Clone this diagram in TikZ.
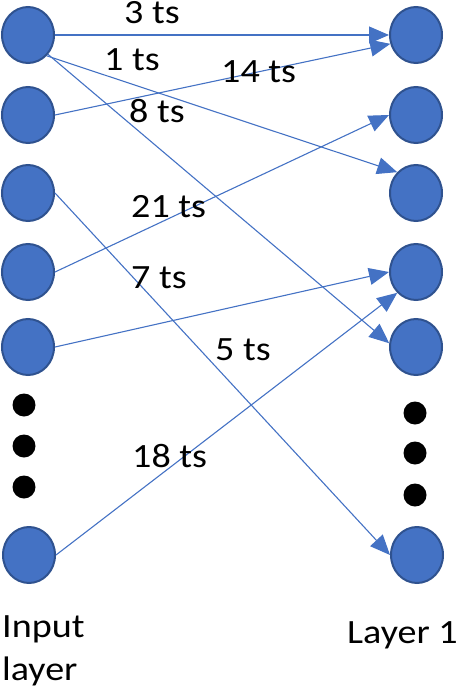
\documentclass[tikz,border=0pt]{standalone}
\usepackage{fontspec}
\setmainfont{Carlito}[FakeStretch=1.12]
\usetikzlibrary{shapes.geometric,arrows.meta}
\definecolor{nodeblue}{HTML}{4472C4}
\definecolor{nodeedge}{HTML}{2F528F}
\begin{document}
\begin{tikzpicture}[x=1pt,y=-1pt,
  neuron/.style={ellipse,draw=nodeedge,fill=nodeblue,line width=2pt,inner sep=0pt,minimum width=52pt,minimum height=56pt},
  dotnode/.style={circle,fill=black,inner sep=0pt,minimum size=23pt},
  lbl/.style={anchor=base west,inner sep=0pt,font=\fontsize{34}{40}\selectfont},
  conn/.style={draw=nodeblue,line width=1.1pt,-{Triangle[length=20pt,width=17pt]}}]
\useasboundingbox (0,0) rectangle (458,690);
% input layer
\node[neuron] (L1) at (28,35) {};
\node[neuron] (L2) at (28,115) {};
\node[neuron] (L3) at (28,193) {};
\node[neuron] (L4) at (28,272) {};
\node[neuron] (L5) at (28,347) {};
\node[dotnode] (LD1) at (24,405) {};
\node[dotnode] (LD2) at (24,446) {};
\node[dotnode] (LD3) at (24,487) {};
\node[neuron] (L6) at (29,555) {};
% layer 1
\node[neuron] (R1) at (416,35) {};
\node[neuron] (R2) at (416,115) {};
\node[neuron] (R3) at (416,193) {};
\node[neuron] (R4) at (416,272) {};
\node[neuron] (R5) at (416,347) {};
\node[dotnode] (RD1) at (415,413) {};
\node[dotnode] (RD2) at (415,453) {};
\node[dotnode] (RD3) at (415,495) {};
\node[neuron] (R6) at (417,555) {};
% connections
\draw[conn] (L1.east) -- (R1.west);
\draw[conn] (L2.east) -- (R1.-161);
\draw[conn] (L1.-48) -- (R3.132);
\draw[conn] (L1.-44) -- (R5.172);
\draw[conn] (L4.east) -- (R2.west);
\draw[conn] (L5.east) -- (R4.west);
\draw[conn] (L6.east) -- (R4.228);
\draw[conn] (L3.east) -- (R6.west);
% labels
\node[lbl] (t3) at (124,24) {3 ts};
\node[lbl] (t1) at (104,71) {1 ts};
\node[lbl] (t14) at (221,83) {14 ts};
\node[lbl] (t8) at (129,123) {8 ts};
\node[lbl] (t21) at (131,217) {21 ts};
\node[lbl] (t7) at (131,288) {7 ts};
\node[lbl] (t5) at (215,360) {5 ts};
\node[lbl] (t18) at (132,467) {18 ts};
\node[lbl] (in1) at (2,637) {Input};
\node[lbl] (in2) at (2,680) {layer};
\node[lbl] (lay) at (347,643) {Layer 1};
\end{tikzpicture}
\end{document}
